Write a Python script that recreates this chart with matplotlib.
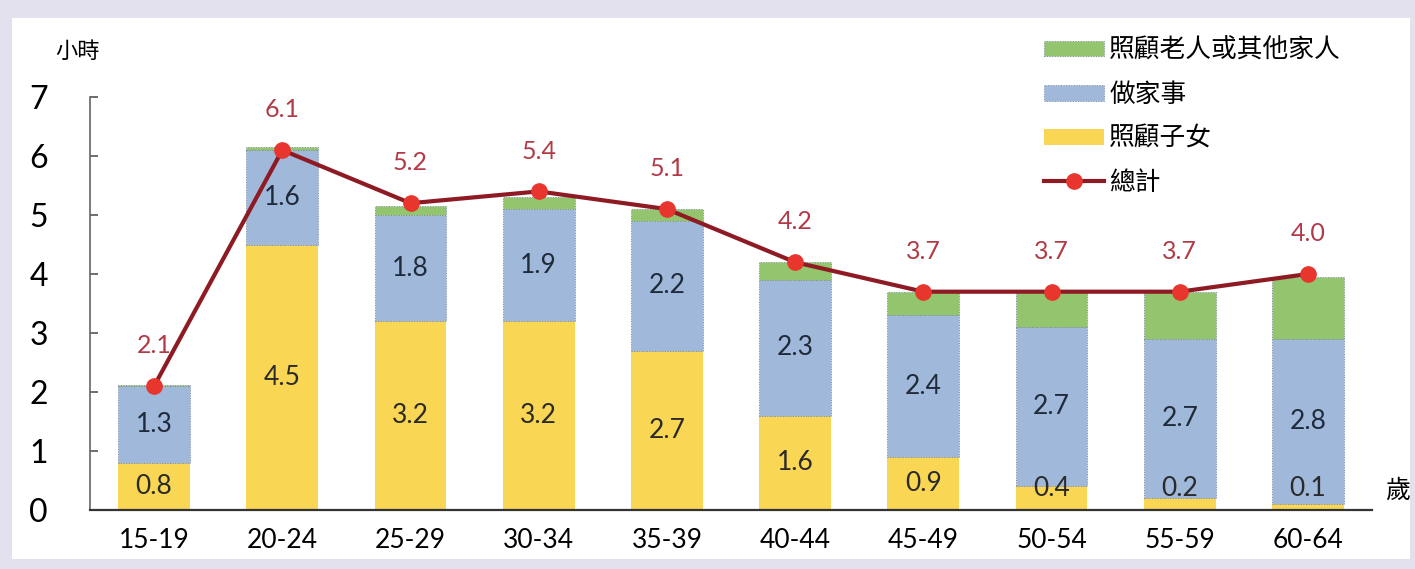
import numpy as np
import matplotlib
matplotlib.use("Agg")
from matplotlib import pyplot as plt
from matplotlib.patches import Rectangle
from matplotlib.lines import Line2D

plt.rcParams['font.family'] = ['Lato', 'Noto Sans CJK TC', 'DejaVu Sans']

# datos
edades = ['15-19', '20-24', '25-29', '30-34', '35-39', '40-44', '45-49', '50-54', '55-59', '60-64']
hijos = [0.8, 4.5, 3.2, 3.2, 2.7, 1.6, 0.9, 0.4, 0.2, 0.1]
casa = [1.3, 1.6, 1.8, 1.9, 2.2, 2.3, 2.4, 2.7, 2.7, 2.8]
mayores = [0.02, 0.05, 0.15, 0.2, 0.2, 0.3, 0.4, 0.6, 0.8, 1.05]
total = [2.1, 6.1, 5.2, 5.4, 5.1, 4.2, 3.7, 3.7, 3.7, 4.0]

c_amarillo = '#f9d654'
c_azul = '#a0b8da'
c_verde = '#93c46e'
c_linea = '#8e1b24'
c_punto = '#e8352e'

fig = plt.figure(figsize=(14.15, 5.69), dpi=100)
fig.patch.set_facecolor('#e3e1ee')
# panel blanco (marco escaneado)
fig.patches.append(Rectangle((12/1415, 10/569), 1398/1415, 541/569,
                             transform=fig.transFigure, facecolor='white',
                             edgecolor='none', zorder=-5))

ax = fig.add_axes([90/1415, 59/569, 1282/1415, 413/569])
ax.set_facecolor('none')

x = np.arange(len(edades))
w = 0.56
hijos = np.array(hijos)
casa = np.array(casa)
mayores = np.array(mayores)

ax.bar(x, hijos, w, color=c_amarillo, zorder=2)
ax.bar(x, casa, w, bottom=hijos, color=c_azul, edgecolor='#7d8aa0',
       linewidth=0.7, linestyle=':', zorder=2)
ax.bar(x, mayores, w, bottom=hijos + casa, color=c_verde, edgecolor='#7d8aa0',
       linewidth=0.7, linestyle=':', zorder=2)

ax.plot(x, total, color=c_linea, lw=3, marker='o', ms=11,
        markerfacecolor=c_punto, markeredgecolor=c_punto, zorder=4)

# etiquetas
for i in range(len(x)):
    ax.text(x[i], max(hijos[i] / 2, 0.36), f'{hijos[i]:.1f}', ha='center', va='center',
            fontsize=19, color='#2a2a2a', zorder=5)
    ax.text(x[i], hijos[i] + casa[i] / 2, f'{casa[i]:.1f}', ha='center', va='center',
            fontsize=19, color='#1f2a3a', zorder=5)
    ax.annotate(f'{total[i]:.1f}', (x[i], total[i]), xytext=(0, 29),
                textcoords='offset points', ha='center', va='center',
                fontsize=18, color='#b23a48', zorder=5)

ax.set_xlim(-0.5, len(x) - 0.5)
ax.set_ylim(0, 7)
ax.set_xticks(x)
ax.set_xticklabels(edades, fontsize=19)
ax.set_yticks(range(8))
ax.tick_params(axis='x', length=0, pad=13)
ax.tick_params(axis='y', direction='in', length=6, width=1.2, color='#555555',
               labelsize=23, pad=37)
for t in ax.get_yticklabels():
    t.set_horizontalalignment('center')

for s in ['top', 'right']:
    ax.spines[s].set_visible(False)
ax.spines['left'].set_color('#666666')
ax.spines['left'].set_linewidth(1.2)
ax.spines['bottom'].set_color('#333333')
ax.spines['bottom'].set_linewidth(1.6)
ax.spines['bottom'].set_zorder(3)

fig.text(78/1415, 1 - 52/569, '小時', ha='center', va='center', fontsize=16)
fig.text(1398/1415, 1 - 490/569, '歲', ha='center', va='center', fontsize=18)

handles = [Rectangle((0, 0), 1, 1, facecolor=c_verde, edgecolor='#7d8aa0', lw=0.7, ls=':'),
           Rectangle((0, 0), 1, 1, facecolor=c_azul, edgecolor='#7d8aa0', lw=0.7, ls=':'),
           Rectangle((0, 0), 1, 1, facecolor=c_amarillo, edgecolor='none'),
           Line2D([], [], color=c_linea, lw=3, marker='o', ms=11,
                  markerfacecolor=c_punto, markeredgecolor=c_punto)]
labels = ['照顧老人或其他家人', '做家事', '照顧子女', '總計']
fig.legend(handles, labels, loc='upper left', bbox_to_anchor=(1031/1415, 1 - 25/569),
           frameon=False, fontsize=18.5, handlelength=2.35, handleheight=0.55,
           labelspacing=0.74, handletextpad=0.2, borderpad=0)

fig.savefig('out.png', dpi=100, facecolor=fig.get_facecolor())
